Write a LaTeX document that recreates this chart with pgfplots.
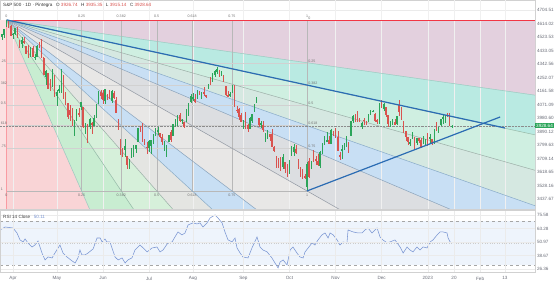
\documentclass[border=0pt]{standalone}
\usepackage{fontspec}
\setmainfont{Liberation Sans}
\usepackage{pgfplots}
\usepackage{pgfplotstable}
\pgfplotsset{compat=1.18}

\definecolor{upc}{HTML}{2CA55A}
\definecolor{dnc}{HTML}{D9534F}
\definecolor{fMauve}{HTML}{E3D0DE}
\definecolor{fAqua}{HTML}{B9EAE2}
\definecolor{fMint}{HTML}{CFEFE1}
\definecolor{fSage}{HTML}{D5E8E1}
\definecolor{fBlue}{HTML}{C8DFF4}
\definecolor{fGray}{HTML}{DCDEE1}
\definecolor{fGrayL}{HTML}{E8E7E6}
\definecolor{fSageL}{HTML}{E4E5E2}
\definecolor{fGreenL}{HTML}{D6F0DA}
\definecolor{fGreen}{HTML}{C8EDD1}
\definecolor{fPink}{HTML}{F9D4D6}
\definecolor{cZero}{HTML}{F23645}
\definecolor{cA}{HTML}{98C7BE}
\definecolor{cB}{HTML}{93B8A6}
\definecolor{cC}{HTML}{9AAEA6}
\definecolor{cD}{HTML}{86A9C6}
\definecolor{cE}{HTML}{88A2BB}
\definecolor{cF}{HTML}{8E95A0}
\definecolor{tline}{HTML}{2B6CB3}
\definecolor{rsiline}{HTML}{7A95D2}
\definecolor{rsiband}{HTML}{EDF3FC}
\definecolor{pbox}{HTML}{2CA55A}
\definecolor{txt}{HTML}{6A6D78}

\newcommand\tf{\fontsize{4.6}{5}\selectfont}
\newcommand\ff{\fontsize{3.6}{4}\selectfont}

% trading-day index: 0 = 1 Apr 2022
\pgfplotstableread{
x o h l c
-5 4522.7 4546.0 4501.1 4543.1
-4 4541.1 4575.7 4517.7 4575.5
-3 4602.9 4637.3 4589.7 4631.6
-2 4624.2 4627.8 4581.3 4602.5
-1 4599.0 4603.1 4530.4 4530.4
0 4540.3 4549.0 4507.6 4545.9
1 4547.0 4583.5 4539.2 4582.6
2 4572.5 4593.5 4514.2 4525.1
3 4494.2 4503.9 4450.0 4481.2
4 4474.7 4521.2 4450.3 4500.2
5 4494.2 4520.4 4474.6 4488.3
6 4462.6 4464.4 4408.4 4412.5
7 4437.6 4471.0 4381.3 4397.5
8 4394.3 4453.9 4392.7 4446.6
9 4449.1 4460.5 4390.8 4392.6
10 4385.6 4410.3 4370.3 4391.7
11 4390.6 4471.0 4390.6 4462.2
12 4472.3 4488.3 4448.8 4459.5
13 4489.2 4512.9 4384.5 4393.7
14 4385.8 4385.8 4267.6 4271.8
15 4255.3 4299.0 4200.8 4296.1
16 4278.1 4278.1 4175.0 4175.2
17 4186.5 4240.7 4162.9 4184.0
18 4222.6 4308.5 4188.6 4287.5
19 4253.8 4269.7 4124.3 4131.9
20 4130.6 4169.8 4062.5 4155.4
21 4159.8 4200.1 4147.1 4175.5
22 4181.2 4307.7 4148.9 4300.2
23 4270.4 4270.4 4106.0 4146.9
24 4128.2 4157.7 4067.9 4123.3
25 4081.3 4081.3 3975.5 3991.2
26 4035.2 4068.8 3958.2 4001.1
27 3990.1 4050.0 3928.8 3935.2
28 3903.0 3964.8 3858.9 3930.1
29 3963.9 4038.9 3963.9 4023.9
30 4013.0 4046.5 3984.0 4008.0
31 4052.0 4090.7 4033.9 4088.9
32 4052.0 4052.0 3911.9 3923.7
33 3899.0 3946.0 3876.6 3900.8
34 3927.8 3943.4 3810.3 3901.4
35 3919.4 3981.9 3909.0 3973.8
36 3942.9 3955.7 3875.1 3941.5
37 3929.6 3999.3 3925.0 3978.7
38 3984.6 4075.1 3984.6 4057.8
39 4077.4 4158.5 4077.4 4158.2
40 4151.1 4168.3 4104.9 4132.2
41 4149.8 4166.5 4073.9 4101.2
42 4095.4 4177.5 4074.4 4176.8
43 4137.6 4142.7 4098.7 4108.5
44 4134.7 4168.8 4109.2 4121.4
45 4096.5 4164.9 4080.2 4160.7
46 4147.1 4160.1 4107.2 4115.8
47 4101.7 4119.1 4017.2 4017.8
48 3974.4 3974.4 3900.2 3900.9
49 3838.2 3838.2 3734.3 3749.6
50 3763.5 3778.2 3721.6 3735.5
51 3764.1 3837.2 3722.3 3790.0
52 3728.2 3728.2 3639.8 3666.8
53 3665.9 3707.7 3636.9 3674.8
54 3715.3 3779.7 3715.3 3764.8
55 3733.9 3801.8 3717.7 3759.9
56 3774.7 3802.6 3743.5 3795.7
57 3821.8 3913.7 3821.8 3911.7
58 3920.8 3927.7 3889.7 3900.1
59 3913.0 3945.9 3820.1 3821.6
60 3825.1 3836.5 3799.0 3818.8
61 3786.0 3819.0 3738.7 3785.4
62 3781.0 3829.8 3752.1 3825.3
63 3792.6 3832.2 3742.1 3831.4
64 3832.0 3870.9 3809.4 3845.1
65 3858.9 3910.6 3858.9 3902.6
66 3888.3 3918.5 3869.3 3899.4
67 3880.9 3880.9 3847.2 3854.4
68 3852.0 3873.4 3802.4 3818.8
69 3779.7 3829.4 3759.1 3801.8
70 3764.0 3796.4 3721.6 3790.4
71 3818.0 3863.6 3817.2 3863.2
72 3883.8 3902.4 3818.6 3830.9
73 3860.7 3939.8 3860.7 3936.7
74 3935.3 3974.1 3922.0 3959.9
75 3955.5 3999.3 3927.6 3999.0
76 3998.4 4012.4 3955.8 3961.6
77 3965.7 3975.3 3943.5 3966.8
78 3953.2 3953.2 3910.7 3921.1
79 3951.4 4039.6 3951.4 4023.6
80 4026.1 4079.0 3993.0 4072.4
81 4087.3 4140.2 4079.2 4130.3
82 4112.4 4145.0 4096.0 4118.6
83 4104.2 4140.5 4079.8 4091.2
84 4108.0 4167.7 4108.0 4155.2
85 4154.9 4161.3 4135.4 4151.9
86 4115.9 4151.6 4107.3 4145.2
87 4155.9 4186.6 4129.0 4140.1
88 4133.1 4137.3 4112.1 4122.5
89 4181.0 4211.0 4177.3 4210.2
90 4227.4 4257.9 4201.4 4207.3
91 4225.0 4280.5 4219.8 4280.2
92 4269.4 4301.8 4256.9 4297.1
93 4290.5 4325.3 4277.8 4305.2
94 4280.4 4302.2 4253.1 4274.0
95 4273.1 4292.5 4262.0 4283.7
96 4266.3 4266.3 4218.7 4228.5
97 4195.1 4195.1 4129.9 4138.0
98 4133.1 4159.8 4124.0 4128.7
99 4126.6 4156.6 4120.0 4140.8
100 4153.3 4200.5 4147.6 4199.1
101 4198.7 4203.0 4057.7 4057.7
102 4034.6 4063.0 4017.4 4030.6
103 4041.3 4045.0 3965.2 3986.2
104 4000.7 4015.4 3954.5 3955.0
105 3936.7 3970.2 3903.7 3966.9
106 3994.7 4018.4 3906.2 3924.3
107 3930.9 3942.6 3886.8 3908.2
108 3909.4 3987.9 3906.0 3979.9
109 3959.9 4010.5 3944.8 4006.2
110 4022.9 4076.8 4022.9 4067.4
111 4083.7 4119.3 4083.7 4110.4
112 3982.2 3983.9 3921.7 3932.7
113 3940.7 3961.9 3912.8 3946.0
114 3932.4 3959.1 3888.3 3901.4
115 3848.0 3881.0 3820.0 3873.3
116 3849.9 3900.5 3838.5 3899.9
117 3875.2 3876.0 3827.5 3855.9
118 3871.4 3907.1 3789.5 3789.9
119 3782.4 3790.5 3749.5 3758.0
120 3727.1 3727.1 3647.5 3693.2
121 3682.7 3715.7 3644.8 3655.0
122 3686.4 3717.5 3623.3 3647.3
123 3651.9 3736.7 3640.6 3719.0
124 3687.0 3687.0 3610.4 3640.5
125 3633.5 3671.4 3584.1 3585.6
126 3609.8 3698.4 3604.9 3678.4
127 3726.5 3791.9 3726.5 3790.9
128 3753.3 3806.9 3722.7 3783.3
129 3772.0 3797.9 3739.2 3744.5
130 3706.7 3706.7 3636.7 3639.7
131 3647.5 3652.2 3588.1 3612.4
132 3595.9 3640.7 3568.5 3588.8
133 3590.8 3608.3 3573.9 3577.0
134 3520.4 3685.4 3491.6 3669.9
135 3690.4 3712.0 3579.7 3583.1
136 3638.7 3689.7 3638.7 3678.0
137 3746.3 3762.8 3686.5 3720.0
138 3703.1 3728.6 3666.5 3695.2
139 3689.1 3736.0 3656.4 3665.8
140 3657.1 3757.9 3647.4 3752.8
141 3762.0 3810.7 3741.7 3797.3
142 3799.4 3862.9 3799.4 3859.1
143 3826.0 3886.2 3824.1 3830.6
144 3834.7 3860.0 3803.8 3807.3
145 3808.3 3905.4 3808.3 3901.1
146 3881.9 3893.7 3863.2 3872.0
147 3901.8 3911.8 3843.8 3856.1
148 3852.9 3894.4 3758.7 3759.7
149 3733.3 3750.6 3698.2 3719.9
150 3767.0 3796.3 3708.8 3770.6
151 3780.7 3814.0 3764.7 3806.8
152 3817.0 3859.4 3786.3 3828.1
153 3810.9 3818.2 3744.2 3748.6
154 3859.9 3958.3 3859.9 3956.4
155 3963.7 4001.5 3944.8 3992.9
156 3978.0 4009.0 3956.4 3957.3
157 4006.4 4028.8 3953.2 3991.7
158 3976.8 3983.1 3954.3 3958.8
159 3919.3 3954.3 3906.5 3946.6
160 3966.4 3979.9 3936.0 3965.3
161 3956.2 3962.0 3933.3 3949.9
162 3965.5 4005.9 3956.9 4003.6
163 4000.3 4033.8 3998.7 4027.3
164 4023.3 4034.0 4020.8 4026.1
165 4005.4 4012.3 3955.8 3963.9
166 3964.2 3976.8 3937.7 3957.6
167 3957.2 4080.1 3938.6 4080.1
168 4087.1 4100.5 4050.9 4076.6
169 4040.2 4080.5 4026.6 4071.7
170 4052.0 4052.5 3984.5 3998.8
171 3996.6 4001.5 3918.4 3941.3
172 3933.3 3957.6 3922.7 3933.9
173 3947.8 3974.2 3935.8 3963.5
174 3954.2 3977.0 3933.0 3934.4
175 3939.3 3990.7 3935.3 3990.6
176 4069.4 4101.0 3993.0 4019.7
177 4015.5 4053.8 3965.7 3995.3
178 3958.4 3958.4 3879.5 3895.8
179 3890.9 3890.9 3827.9 3852.4
180 3853.8 3854.9 3800.0 3817.7
181 3810.5 3838.2 3795.6 3821.6
182 3839.5 3889.3 3839.5 3878.4
183 3853.6 3853.6 3764.5 3822.4
184 3815.1 3845.8 3797.0 3844.8
185 3843.3 3846.7 3813.2 3829.3
186 3829.6 3848.3 3780.8 3783.2
187 3805.5 3858.2 3805.5 3849.3
188 3829.1 3839.9 3800.3 3839.5
189 3853.3 3878.5 3794.3 3824.1
190 3840.4 3873.2 3815.8 3853.0
191 3839.7 3839.7 3802.4 3808.1
192 3823.4 3906.2 3809.6 3895.1
193 3910.8 3950.6 3890.4 3892.1
194 3888.6 3919.8 3877.3 3919.3
195 3932.4 3970.1 3928.5 3969.6
196 3977.6 3997.8 3937.6 3983.2
197 3960.6 4004.0 3947.7 3999.1
198 3999.3 4015.4 3984.6 3991.0
199 4002.3 4014.2 3926.6 3928.9
200 3926.74 3935.35 3915.14 3928.64
}\candles

\pgfplotstableread{
x r
-5.9 61.9
-3.6 64.6
0 63.7
1.8 59.2
3.2 52.8
4.6 51.0
5.5 53.7
6.8 50.1
8.7 46.4
10.0 48.2
11.4 51.9
13.2 40.9
14.6 34.6
16.0 37.3
17.8 36.4
19.1 40.9
21.4 48.2
22.8 40.9
24.6 37.3
26.9 33.7
28.3 31.8
29.6 36.4
30.5 43.7
31.4 39.1
32.8 39.1
34.2 40.9
36.5 44.6
38.3 54.6
39.7 54.6
40.6 51.0
41.9 53.7
42.8 51.0
44.2 51.0
46.5 37.3
47.9 34.6
49.7 36.4
51.1 31.8
52.4 34.6
54.2 36.4
55.6 43.7
57.9 48.2
59.3 45.5
61.1 41.9
63.4 45.5
65.6 46.4
67.0 41.9
68.4 43.7
70.6 50.1
72.5 51.0
73.8 55.5
75.2 60.1
77.0 57.4
78.4 59.2
79.8 66.5
82.0 68.3
83.9 67.4
85.2 68.3
86.6 64.6
88.4 68.3
89.8 72.8
92.1 75.6
93.4 72.8
95.3 68.3
96.6 60.1
98.0 52.8
99.8 51.0
101.2 54.6
102.1 45.5
103.5 40.9
104.8 37.3
107.1 36.4
108.9 45.5
111.2 55.5
112.6 46.4
113.9 43.7
115.8 41.9
118.0 36.4
119.4 31.8
120.8 27.3
121.7 32.7
123.1 34.6
124.9 30.0
126.3 43.7
127.6 46.4
129.4 40.9
130.8 37.3
132.2 36.4
133.1 41.9
134.5 45.5
136.3 50.1
137.6 48.2
139.0 52.8
140.8 57.4
142.2 59.2
143.6 54.6
144.5 59.2
145.9 57.4
147.7 52.8
149.0 48.2
150.4 51.0
152.2 50.1
152.7 61.9
155.0 60.1
157.2 59.2
159.1 59.2
160.4 61.9
161.8 63.7
163.6 59.2
165.9 63.7
167.3 55.5
168.6 52.8
170.5 50.1
171.8 51.0
174.1 52.8
176.4 46.4
177.8 40.9
179.6 46.4
180.9 43.7
182.3 41.9
184.1 46.4
185.5 43.7
186.9 46.4
188.7 45.5
190.1 51.0
191.4 52.8
193.3 57.4
194.6 60.1
196.0 60.1
197.8 59.2
198.3 54.6
199.2 51.0
200.1 50.11
}\rsidata

\begin{document}
\begin{tikzpicture}
\fill[white] (0pt,0pt) rectangle (554pt,283pt);

% ---------------- price panel ----------------
\begin{axis}[
  at={(0pt,74pt)}, anchor=south west,
  scale only axis, width=535pt, height=209pt,
  xmin=-5.93, xmax=237.9, ymin=3370.65, ymax=4771.5,
  clip mode=individual,
  axis line style={draw=black!18, line width=0.4pt},
  xtick={0,20,41,62,82,105,126,147,168,189,201,212.9,224.2},
  xticklabels={},
  ytick={4704.51,4614.02,4523.53,4433.05,4342.56,4252.07,4161.58,4071.09,3980.60,3890.12,3799.63,3709.14,3618.65,3528.16,3437.67},
  yticklabels={4704.51,4614.02,4523.53,4433.05,4342.56,4252.07,4161.58,4071.09,3980.60,3890.12,3799.63,3709.14,3618.65,3528.16,3437.67},
  yticklabel pos=right,
  major tick length=0pt,
  grid=major, major grid style={draw=black!8, line width=0.35pt},
  yticklabel style={font=\tf, text=txt, xshift=-1.5pt},
]
% fan fills (upper set)
\addplot[draw=none, fill=fMauve] coordinates {(-3,4637.3) (237.9,4637.3) (237.9,4133.65)};
\addplot[draw=none, fill=fAqua] coordinates {(-3,4637.3) (237.9,4133.65) (237.9,3867.7)};
\addplot[draw=none, fill=fMint] coordinates {(-3,4637.3) (237.9,3867.7) (237.9,3630.0)};
\addplot[draw=none, fill=fSage] coordinates {(-3,4637.3) (237.9,3630.0) (237.9,3392.3)};
\addplot[draw=none, fill=fBlue] coordinates {(-3,4637.3) (237.9,3392.3) (237.9,3126.35)};
\addplot[draw=none, fill=fGray] coordinates {(-3,4637.3) (237.9,3126.35) (237.9,2622.7)};
% fan fills (lower set)
\addplot[draw=none, fill=fGrayL] coordinates {(-3,4637.3) (237.9,2622.7) (177.68,2622.7)};
\addplot[draw=none, fill=fBlue] coordinates {(-3,4637.3) (177.68,2622.7) (145.9,2622.7)};
\addplot[draw=none, fill=fSageL] coordinates {(-3,4637.3) (145.9,2622.7) (117.45,2622.7)};
\addplot[draw=none, fill=fGreenL] coordinates {(-3,4637.3) (117.45,2622.7) (89.03,2622.7)};
\addplot[draw=none, fill=fGreen] coordinates {(-3,4637.3) (89.03,2622.7) (57.23,2622.7)};
\addplot[draw=none, fill=fPink] coordinates {(-3,4637.3) (57.23,2622.7) (-3,2622.7)};
\addplot[draw=none, fill=fPink!70] coordinates {(-6,4637.3) (-3,4637.3) (-3,2622.7) (-6,2622.7)};

% month grid (over the fills)
\addplot[black!6, line width=0.35pt] coordinates {(0,3370.65) (0,4771.5)};
\addplot[black!6, line width=0.35pt] coordinates {(20,3370.65) (20,4771.5)};
\addplot[black!6, line width=0.35pt] coordinates {(41,3370.65) (41,4771.5)};
\addplot[black!6, line width=0.35pt] coordinates {(62,3370.65) (62,4771.5)};
\addplot[black!6, line width=0.35pt] coordinates {(82,3370.65) (82,4771.5)};
\addplot[black!6, line width=0.35pt] coordinates {(105,3370.65) (105,4771.5)};
\addplot[black!6, line width=0.35pt] coordinates {(126,3370.65) (126,4771.5)};
\addplot[black!6, line width=0.35pt] coordinates {(147,3370.65) (147,4771.5)};
\addplot[black!6, line width=0.35pt] coordinates {(168,3370.65) (168,4771.5)};
\addplot[black!6, line width=0.35pt] coordinates {(189,3370.65) (189,4771.5)};
\addplot[black!6, line width=0.35pt] coordinates {(201,3370.65) (201,4771.5)};
\addplot[black!6, line width=0.35pt] coordinates {(212.9,3370.65) (212.9,4771.5)};
\addplot[black!6, line width=0.35pt] coordinates {(224.2,3370.65) (224.2,4771.5)};

% fib grid box
\addplot[black!28, line width=0.35pt] coordinates {(31.25,4637.3) (31.25,3491.6)};
\addplot[black!28, line width=0.35pt] coordinates {(49.33,4637.3) (49.33,3491.6)};
\addplot[black!28, line width=0.35pt] coordinates {(65.5,4637.3) (65.5,3491.6)};
\addplot[black!28, line width=0.35pt] coordinates {(81.67,4637.3) (81.67,3491.6)};
\addplot[black!28, line width=0.35pt] coordinates {(99.75,4637.3) (99.75,3491.6)};
\addplot[black!28, line width=0.35pt] coordinates {(134,4637.3) (134,3491.6)};
\addplot[black!18, line width=0.35pt] coordinates {(-3,4350.9) (134,4350.9)};
\addplot[black!18, line width=0.35pt] coordinates {(-3,4199.6) (134,4199.6)};
\addplot[black!18, line width=0.35pt] coordinates {(-3,4064.45) (134,4064.45)};
\addplot[black!18, line width=0.35pt] coordinates {(-3,3929.3) (134,3929.3)};
\addplot[black!18, line width=0.35pt] coordinates {(-3,3778.0) (134,3778.0)};
\addplot[black!28, line width=0.35pt] coordinates {(-3,3491.6) (134,3491.6)};

% fan rays
\addplot[cZero, line width=0.5pt] coordinates {(-3,4637.3) (237.9,4637.3)};
\addplot[cZero!50, line width=0.5pt] coordinates {(-3,4637.3) (-3,2622.7)};
\addplot[cA, line width=0.5pt] coordinates {(-3,4637.3) (237.9,4133.65)};
\addplot[cB, line width=0.5pt] coordinates {(-3,4637.3) (237.9,3867.7)};
\addplot[cC, line width=0.5pt] coordinates {(-3,4637.3) (237.9,3630.0)};
\addplot[cD, line width=0.5pt] coordinates {(-3,4637.3) (237.9,3392.3)};
\addplot[cE, line width=0.5pt] coordinates {(-3,4637.3) (237.9,3126.35)};
\addplot[cF, line width=0.5pt] coordinates {(-3,4637.3) (237.9,2622.7)};
\addplot[cE, line width=0.5pt] coordinates {(-3,4637.3) (177.68,2622.7)};
\addplot[cD, line width=0.5pt] coordinates {(-3,4637.3) (145.9,2622.7)};
\addplot[cC, line width=0.5pt] coordinates {(-3,4637.3) (117.45,2622.7)};
\addplot[cB, line width=0.5pt] coordinates {(-3,4637.3) (89.03,2622.7)};
\addplot[cA, line width=0.5pt] coordinates {(-3,4637.3) (57.23,2622.7)};

% current price line
\addplot[black!45, densely dotted, line width=0.45pt] coordinates {(-5.93,3928.64) (237.9,3928.64)};

% candles: wicks
\addplot[draw=none, mark=none, restrict expr to domain={\thisrow{c}-\thisrow{o}}{0:100000},
  error bars/.cd, y dir=both, y explicit, error mark=none,
  error bar style={line width=0.45pt, draw=upc}]
  table[x=x, y expr={(\thisrow{h}+\thisrow{l})/2},
        y error expr={(\thisrow{h}-\thisrow{l})/2}] {\candles};
\addplot[draw=none, mark=none, restrict expr to domain={\thisrow{c}-\thisrow{o}}{-100000:-0.001},
  error bars/.cd, y dir=both, y explicit, error mark=none,
  error bar style={line width=0.45pt, draw=dnc}]
  table[x=x, y expr={(\thisrow{h}+\thisrow{l})/2},
        y error expr={(\thisrow{h}-\thisrow{l})/2}] {\candles};
% candles: bodies
\addplot[draw=none, mark=none, restrict expr to domain={\thisrow{c}-\thisrow{o}}{0:100000},
  error bars/.cd, y dir=both, y explicit, error mark=none,
  error bar style={line width=1.5pt, draw=upc}]
  table[x=x, y expr={(\thisrow{o}+\thisrow{c})/2},
        y error expr={abs(\thisrow{c}-\thisrow{o})/2+1}] {\candles};
\addplot[draw=none, mark=none, restrict expr to domain={\thisrow{c}-\thisrow{o}}{-100000:-0.001},
  error bars/.cd, y dir=both, y explicit, error mark=none,
  error bar style={line width=1.5pt, draw=dnc}]
  table[x=x, y expr={(\thisrow{o}+\thisrow{c})/2},
        y error expr={abs(\thisrow{c}-\thisrow{o})/2+1}] {\candles};

% trend lines
\addplot[tline, line width=1.2pt] coordinates {(-2.7,4637.5) (224.2,3913.6)};
\addplot[tline, line width=1.2pt] coordinates {(134,3491.6) (222,3987.3)};

% fib labels (top row)
\node[font=\ff, text=black!55, inner sep=0pt] at (axis cs:-3,4664) {0};
\node[font=\ff, text=black!55, inner sep=0pt] at (axis cs:31.25,4664) {0.25};
\node[font=\ff, text=black!55, inner sep=0pt] at (axis cs:49.33,4664) {0.382};
\node[font=\ff, text=black!55, inner sep=0pt] at (axis cs:65.5,4664) {0.5};
\node[font=\ff, text=black!55, inner sep=0pt] at (axis cs:81.67,4664) {0.618};
\node[font=\ff, text=black!55, inner sep=0pt] at (axis cs:99.75,4664) {0.75};
\node[font=\ff, text=black!55, inner sep=0pt] at (axis cs:134,4664) {1};
% bottom row
\node[font=\ff, text=black!55, inner sep=0pt] at (axis cs:-3,3466) {0};
\node[font=\ff, text=black!55, inner sep=0pt] at (axis cs:31.25,3466) {0.25};
\node[font=\ff, text=black!55, inner sep=0pt] at (axis cs:49.33,3466) {0.382};
\node[font=\ff, text=black!55, inner sep=0pt] at (axis cs:65.5,3466) {0.5};
\node[font=\ff, text=black!55, inner sep=0pt] at (axis cs:81.67,3466) {0.618};
\node[font=\ff, text=black!55, inner sep=0pt] at (axis cs:99.75,3466) {0.75};
\node[font=\ff, text=black!55, inner sep=0pt] at (axis cs:134,3466) {1};
% right column
\node[font=\ff, text=black!55, inner sep=0.5pt, anchor=south west] at (axis cs:134.3,4637.3) {0};
\node[font=\ff, text=black!55, inner sep=0.5pt, anchor=south west] at (axis cs:134.3,4350.9) {0.25};
\node[font=\ff, text=black!55, inner sep=0.5pt, anchor=south west] at (axis cs:134.3,4199.6) {0.382};
\node[font=\ff, text=black!55, inner sep=0.5pt, anchor=south west] at (axis cs:134.3,4064.45) {0.5};
\node[font=\ff, text=black!55, inner sep=0.5pt, anchor=south west] at (axis cs:134.3,3929.3) {0.618};
\node[font=\ff, text=black!55, inner sep=0.5pt, anchor=south west] at (axis cs:134.3,3778.0) {0.75};
% left column
\node[font=\ff, text=black!55, inner sep=0.5pt, anchor=south west] at (axis cs:-5.9,4350.9) {.25};
\node[font=\ff, text=black!55, inner sep=0.5pt, anchor=south west] at (axis cs:-5.9,4199.6) {382};
\node[font=\ff, text=black!55, inner sep=0.5pt, anchor=south west] at (axis cs:-5.9,4064.45) {0.5};
\node[font=\ff, text=black!55, inner sep=0.5pt, anchor=south west] at (axis cs:-5.9,3929.3) {618};
\node[font=\ff, text=black!55, inner sep=0.5pt, anchor=south west] at (axis cs:-5.9,3778.0) {.75};
\node[font=\ff, text=black!55, inner sep=0.5pt, anchor=south west] at (axis cs:-5.9,3491.6) {1};

% last price box
\node[fill=pbox, text=white, font=\tf, inner xsep=1pt, inner ysep=0.8pt, anchor=west] at (axis cs:237.9,3928.64) {3928.64};
\end{axis}

% header
\node[anchor=west, font=\tf, text=black!80, inner sep=0pt] at (3pt,278pt)
  {S\&P 500 · 1D · Pintegra \enspace O \textcolor{dnc}{3926.74} \enspace H \textcolor{dnc}{3935.35} \enspace L \textcolor{dnc}{3915.14} \enspace C \textcolor{dnc}{3928.64}};

% ---------------- RSI panel ----------------
\begin{axis}[
  at={(0pt,11pt)}, anchor=south west,
  scale only axis, width=535pt, height=62pt,
  xmin=-5.93, xmax=237.9, ymin=23.6, ymax=80.1,
  clip mode=individual,
  axis line style={draw=black!18, line width=0.4pt},
  xtick={0,20,41,62,82,105,126,147,168,189,201,212.9,224.2},
  xticklabels={Apr,May,Jun,Jul,Aug,Sep,Oct,Nov,Dec,2023,20,Feb,13},
  ytick={26.36,38.67,50.97,63.28,75.58},
  yticklabels={26.36,38.67,50.97,63.28,75.58},
  yticklabel pos=right,
  major tick length=0pt,
  grid=major, major grid style={draw=black!8, line width=0.35pt},
  yticklabel style={font=\tf, text=txt, xshift=-1.5pt},
  xticklabel style={font=\tf, text=txt, yshift=-1.2pt},
  axis on top,
]
\addplot[draw=none, fill=rsiband, fill opacity=0.9] coordinates {(-5.93,30) (237.9,30) (237.9,70) (-5.93,70)};
\addplot[black!35, dashed, line width=0.4pt] coordinates {(-5.93,70) (237.9,70)};
\addplot[black!35, dashed, line width=0.4pt] coordinates {(-5.93,30) (237.9,30)};
\addplot[black!20, dotted, line width=0.4pt] coordinates {(-5.93,50) (237.9,50)};
\addplot[rsiline, line width=0.55pt] table[x=x, y=r] {\rsidata};
\end{axis}
\node[anchor=west, font=\tf, text=black!75, inner sep=0pt] at (3pt,66.5pt)
  {RSI 14 Close \enspace\textcolor{rsiline}{50.11}};
\pgfresetboundingbox
\path[use as bounding box] (0pt,0pt) rectangle (554pt,283pt);
\end{tikzpicture}
\end{document}
